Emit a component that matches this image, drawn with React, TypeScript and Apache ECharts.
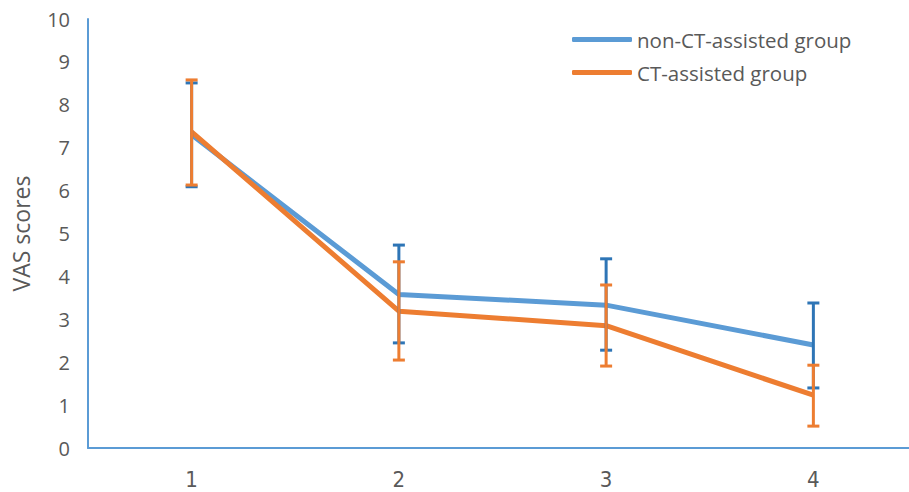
import React, { useEffect, useRef } from "react";
import * as echarts from "echarts";

const categories = ["1", "2", "3", "4"];
const nonCTMean = [7.3, 3.58, 3.33, 2.4];
const ctMean = [7.37, 3.19, 2.85, 1.23];
const nonCTLow = [6.09, 2.45, 2.28, 1.4];
const nonCTHigh = [8.51, 4.73, 4.41, 3.38];
const ctLow = [6.13, 2.05, 1.91, 0.51];
const ctHigh = [8.58, 4.34, 3.8, 1.93];

const BLUE = "#5B9BD5";
const BLUE_DARK = "#2E75B6";
const ORANGE = "#ED7D31";
const TEXT = "#595959";
const FONT = "'Open Sans', 'Noto Sans', sans-serif";
const NARROW = "'Liberation Sans Narrow', 'DejaVu Sans Condensed', 'Open Sans', sans-serif";

function errorSeries(name: string, low: number[], high: number[], color: string, z: number) {
  return {
    type: "custom",
    name: name,
    z: z,
    silent: true,
    data: categories.map((c, i) => [i, low[i], high[i]]),
    renderItem: (params: any, api: any) => {
      const idx = api.value(0);
      const lo = api.coord([idx, api.value(1)]);
      const hi = api.coord([idx, api.value(2)]);
      const half = 6;
      const style = { stroke: color, lineWidth: 3, fill: "none" };
      return {
        type: "group",
        children: [
          { type: "line", shape: { x1: hi[0], y1: hi[1], x2: lo[0], y2: lo[1] }, style },
          { type: "line", shape: { x1: hi[0] - half, y1: hi[1], x2: hi[0] + half, y2: hi[1] }, style },
          { type: "line", shape: { x1: lo[0] - half, y1: lo[1], x2: lo[0] + half, y2: lo[1] }, style },
        ],
      };
    },
  };
}

export default function App() {
  const ref = useRef<HTMLDivElement>(null);
  useEffect(() => {
    if (!ref.current) return;
    const chart = echarts.init(ref.current, null, { renderer: "svg" });
    chart.setOption({
      animation: false,
      backgroundColor: "#ffffff",
      grid: { left: 88, right: 3, top: 19, bottom: 44 },
      legend: {
        orient: "vertical",
        left: 567,
        top: 24,
        itemWidth: 60,
        itemHeight: 5,
        itemGap: 12,
        icon: "roundRect",
        textStyle: { color: TEXT, fontSize: 20.5, fontFamily: FONT, padding: [0, 0, 0, 0] },
        data: ["non-CT-assisted group", "CT-assisted group"],
      },
      xAxis: {
        type: "category",
        data: categories,
        axisLine: { lineStyle: { color: BLUE, width: 2 } },
        axisTick: { show: false },
        axisLabel: { color: TEXT, fontSize: 22, fontFamily: NARROW, margin: 20 },
        splitLine: { show: false },
      },
      yAxis: {
        type: "value",
        min: 0,
        max: 10,
        interval: 1,
        name: "VAS scores",
        nameLocation: "middle",
        nameGap: 56,
        nameTextStyle: { color: TEXT, fontSize: 23, fontFamily: FONT },
        axisLine: { show: true, lineStyle: { color: BLUE, width: 2 } },
        axisTick: { show: false },
        axisLabel: { color: TEXT, fontSize: 20, fontFamily: FONT, margin: 18 },
        splitLine: { show: false },
      },
      series: [
        {
          name: "non-CT-assisted group",
          type: "line",
          data: nonCTMean,
          symbol: "none",
          z: 2,
          lineStyle: { color: BLUE, width: 5 },
          itemStyle: { color: BLUE },
        },
        {
          name: "CT-assisted group",
          type: "line",
          data: ctMean,
          symbol: "none",
          z: 3,
          lineStyle: { color: ORANGE, width: 5 },
          itemStyle: { color: ORANGE },
        },
        errorSeries("nonCTErr", nonCTLow, nonCTHigh, BLUE_DARK, 4),
        errorSeries("ctErr", ctLow, ctHigh, ORANGE, 5),
      ],
    });
    return () => chart.dispose();
  }, []);
  return <div ref={ref} style={{ position: "fixed", left: 0, top: 0, width: 920, height: 492 }} />;
}
